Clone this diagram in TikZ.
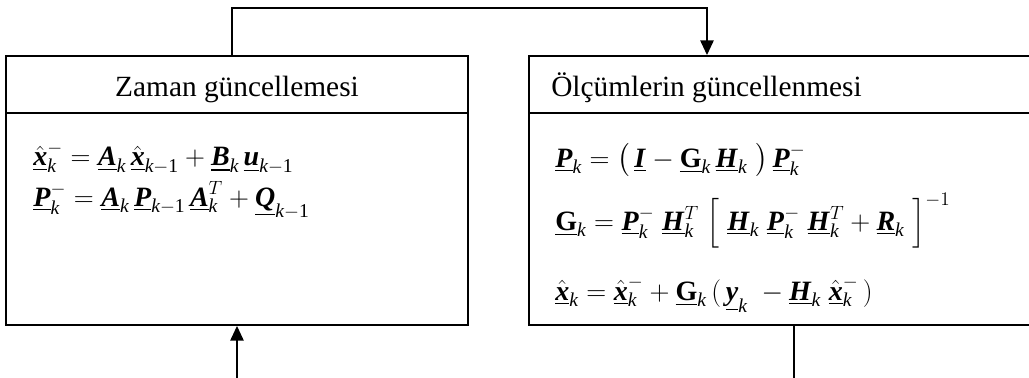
\documentclass[tikz,border=0pt]{standalone}
\usepackage{amsmath}
\usepackage{fontspec}
\setmainfont{Liberation Serif}
\usetikzlibrary{arrows.meta}
\newcommand\bv[1]{\underline{\textbf{\textit{#1}}}}
\newcommand\bu[1]{\underline{\textbf{#1}}}
\newcommand\kk{\textit{k}}
\newcommand\km{\textit{k}-\textrm{1}}
\begin{document}
\begin{tikzpicture}[x=0.75pt,y=-0.75pt,
  box/.style={draw,line width=1.4pt,minimum height=269*0.75pt,inner sep=0pt},
  conn/.style={line width=1.1pt},
  arr/.style={conn,-{Triangle[length=11pt,width=10pt]}},
  head/.style={font=\fontsize{22}{26}\selectfont,inner sep=0pt},
  eq/.style={font=\fontsize{21}{25}\selectfont,inner sep=0pt,anchor=base west}]
\clip (0,0) rectangle (1029,378);
\node[box,minimum width=462*0.75pt] (L) at (237,190.5) {};
\node[box,minimum width=520*0.75pt] (R) at (789,190.5) {};
\draw[line width=1.4pt] (L.west |- 0,113) -- (L.east |- 0,113);
\draw[line width=1.4pt] (R.west |- 0,113) -- (R.east |- 0,113);
\node[head,anchor=base] (hl) at (237,97) {Zaman güncellemesi};
\node[head,anchor=base west] (hr) at (551,97) {Ölçümlerin güncellenmesi};
\node[eq] (l1) at (33,166) {$\hat{\bv{x}}_{\kk}^{-}=\bv{A}_{\kk}\,\hat{\bv{x}}_{\km}+\bv{B}_{\kk}\,\bv{u}_{\km}$};
\node[eq] (l2) at (33,206) {$\bv{P}_{\kk}^{-}=\bv{A}_{\kk}\,\bv{P}_{\km}\,\bv{A}_{\kk}^{T}+\bv{Q}_{\km}$};
\node[eq] (r1) at (555,167) {$\bv{P}_{\kk}=\bigl(\,\bv{I}-\bu{G}_{\kk}\,\bv{H}_{\kk}\;\bigr)\,\bv{P}_{\kk}^{-}$};
\node[eq] (r2) at (555,230) {$\bu{G}_{\kk}=\bv{P}_{\kk}^{-}\;\bv{H}_{\kk}^{T}\;\Bigl[\;\bv{H}_{\kk}\;\bv{P}_{\kk}^{-}\;\bv{H}_{\kk}^{T}+\bv{R}_{\kk}\;\Bigr]^{-1}$};
\node[eq] (r3) at (555,300) {$\hat{\bv{x}}_{\kk}=\hat{\bv{x}}_{\kk}^{-}+\bu{G}_{\kk}\,(\,\bv{y}_{\kk}\;-\bv{H}_{\kk}\;\hat{\bv{x}}_{\kk}^{-}\,)$};
\coordinate (c1) at (232,8);
\coordinate (c2) at (707,8);
\draw[arr] (c1 |- L.north) -- (c1) -- (c2) -- (c2 |- R.north);
\coordinate (b1) at (237,378);
\draw[arr] (b1) -- (b1 |- L.south);
\coordinate (b2) at (794,378);
\draw[conn] (b2 |- R.south) -- (b2);
\end{tikzpicture}
\end{document}
